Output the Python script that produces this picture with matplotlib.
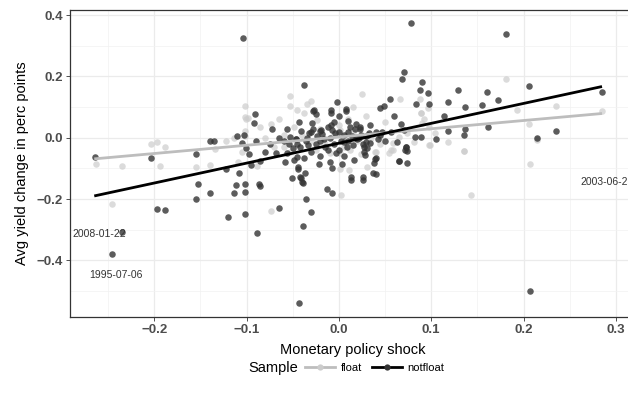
import numpy as np
import matplotlib.pyplot as plt
from matplotlib.lines import Line2D

plt.rcParams['font.family'] = ['Liberation Sans', 'DejaVu Sans']

# ===== data =====
# notfloat sample: (shock, avg yield change)
notfloat_x = [-0.264, -0.204, -0.155, -0.104, -0.110, -0.140, -0.135, -0.105, -0.101, -0.097,
              -0.153, -0.140, -0.155, -0.197, -0.188, -0.235, -0.246, -0.120, -0.122, -0.108,
              -0.111, -0.114, -0.1015, -0.1015, -0.1015, -0.089, -0.065, -0.086, -0.043, -0.039,
              -0.036, -0.030, -0.039, -0.013, -0.008, 0.207, 0.013, 0.026, 0.078, 0.181,
              0.070, 0.068, 0.090, 0.088, 0.096, 0.055, 0.044, 0.049, 0.083, 0.098,
              0.118, 0.129, 0.137, 0.160, 0.172, 0.155, 0.206, 0.285, 0.2145, 0.235,
              0.162, 0.135, 0.137, 0.114, 0.105, -0.002, 0.008, 0.065, 0.074, 0.072,
              0.073, 0.040, 0.038, 0.040, 0.026, 0.013, 0.060, 0.082, 0.089, 0.034,
              0.029, 0.034, 0.016, 0.028, 0.027, -0.091, -0.092, -0.072, -0.103, -0.025,
              -0.029, -0.043, -0.041, -0.032, -0.021, -0.009, -0.009, 0.010, 0.018, 0.023,
              0.033, -0.087, -0.051, -0.041, -0.040, -0.044, -0.058, -0.045, -0.038, -0.028,
              -0.056, -0.053, -0.046, -0.042, -0.056, -0.049, -0.044, -0.037, -0.042, -0.068,
              0.118, 0.067, 0.070, 0.040, 0.047, 0.056, 0.023, 0.024, 0.029, 0.030,
              0.027, 0.039, 0.037, 0.063, 0.073, 0.074, 0.065, -0.027, -0.009, 0.008,
              -0.020, -0.015, -0.010, -0.005, 0.000, 0.005, 0.010, 0.015, -0.025, -0.030,
              -0.035, -0.020, 0.000, 0.010, 0.020, -0.045, -0.050, -0.005, 0.005, -0.010,
              0.018, -0.028, 0.045, 0.050, -0.060, -0.012, 0.002, -0.018, 0.012, -0.038,
              -0.022, -0.008, 0.003, -0.065, -0.075, -0.080, -0.090, -0.085, -0.095, 0.000,
              -0.016, -0.004, 0.006, 0.014, -0.024, -0.033, -0.012, 0.022, 0.031, -0.047,
              -0.003, 0.009, -0.019, 0.017, -0.030, 0.042, -0.054, -0.007, 0.026, -0.036]
notfloat_y = [-0.062, -0.067, -0.053, 0.325, 0.005, -0.010, -0.010, -0.018, -0.034, -0.052,
              -0.150, -0.180, -0.200, -0.231, -0.236, -0.309, -0.380, -0.260, -0.103, -0.116,
              -0.155, -0.180, -0.150, -0.176, -0.250, -0.311, -0.230, -0.157, -0.539, -0.148,
              -0.200, -0.242, -0.289, -0.167, -0.180, -0.501, -0.138, -0.138, 0.373, 0.339,
              0.213, 0.192, 0.181, 0.155, 0.146, 0.126, 0.096, 0.103, 0.109, 0.110,
              0.115, 0.156, 0.099, 0.150, 0.122, 0.106, 0.169, 0.148, 0.000, 0.021,
              0.036, 0.010, 0.029, 0.070, -0.004, 0.116, 0.088, -0.076, -0.082, -0.039,
              -0.030, -0.066, -0.082, -0.120, -0.129, -0.129, 0.070, 0.002, 0.002, 0.040,
              0.007, -0.016, -0.073, -0.056, -0.030, 0.077, 0.049, 0.027, 0.010, 0.077,
              0.048, 0.051, 0.021, 0.014, 0.023, 0.082, 0.041, 0.055, 0.044, 0.028,
              0.014, -0.150, -0.132, -0.130, -0.145, -0.101, -0.079, -0.062, 0.172, 0.088,
              0.027, 0.003, -0.005, -0.029, -0.051, -0.073, -0.095, -0.116, -0.127, -0.051,
              0.021, 0.044, 0.025, 0.018, 0.020, 0.020, 0.034, 0.009, -0.013, -0.033,
              -0.046, -0.070, -0.116, -0.013, -0.031, -0.043, -0.075, 0.090, 0.090, 0.093,
              -0.010, -0.030, 0.000, -0.020, -0.040, 0.010, -0.010, -0.025, -0.020, -0.045,
              0.000, -0.060, 0.020, 0.020, -0.005, -0.020, -0.035, 0.050, -0.060, -0.080,
              0.000, 0.030, 0.010, -0.010, -0.010, 0.035, -0.010, 0.012, 0.035, -0.065,
              -0.085, -0.100, -0.085, 0.000, -0.020, -0.045, -0.010, -0.075, -0.090, 0.070,
              -0.004, 0.015, -0.015, 0.005, 0.005, -0.025, -0.040, 0.000, 0.010, -0.005,
              -0.050, -0.030, 0.025, 0.028, 0.020, -0.005, -0.020, 0.025, -0.020, -0.010]

# float sample
float_x = [-0.102, -0.101, -0.098, -0.102, -0.122, -0.114, -0.204, -0.197, -0.188, -0.105,
           -0.134, -0.263, -0.235, -0.194, -0.155, -0.140, -0.246, -0.109, -0.074, 0.002,
           0.143, 0.181, 0.025, 0.066, 0.235, 0.285, 0.2145, 0.207, 0.206, 0.135,
           0.118, 0.099, 0.054, 0.059, 0.029, 0.040, 0.024, 0.088, 0.089, 0.096,
           0.193, 0.215, -0.053, -0.053, -0.035, -0.102, -0.074, -0.085, -0.102, -0.089,
           0.001, 0.011, -0.049, -0.038, -0.024, 0.001, 0.012, 0.001, -0.053, -0.060,
           0.089, 0.092, 0.090, 0.098, 0.104, 0.098, 0.136, 0.081, 0.074, 0.065,
           0.056, 0.059, 0.039, 0.030, 0.045, -0.020, -0.015, -0.005, 0.005, 0.015,
           -0.030, -0.010, 0.020, 0.010, -0.040, 0.000, -0.025, 0.035, 0.045, -0.060,
           -0.070, -0.080, -0.065, -0.045, 0.015, 0.050, -0.030]
float_y = [0.102, 0.061, 0.063, 0.023, -0.012, 0.000, -0.020, -0.014, -0.030, -0.046,
           -0.036, -0.087, -0.093, -0.092, -0.097, -0.088, -0.217, -0.079, -0.240, -0.187,
           -0.188, 0.192, 0.142, 0.127, 0.102, 0.086, -0.004, -0.085, 0.045, -0.044,
           -0.013, -0.024, -0.049, -0.040, 0.071, -0.046, -0.053, 0.126, 0.080, 0.096,
           0.090, -0.007, 0.135, 0.104, 0.109, 0.067, 0.044, 0.036, 0.006, -0.092,
           -0.101, -0.105, 0.036, 0.080, 0.058, 0.025, -0.040, -0.051, -0.046, -0.029,
           0.082, 0.060, 0.047, 0.036, 0.014, -0.024, -0.043, -0.013, 0.014, 0.003,
           -0.040, -0.018, -0.046, -0.095, 0.003, 0.030, -0.020, 0.010, -0.030, 0.020,
           -0.010, -0.050, -0.010, 0.060, 0.010, 0.040, -0.040, 0.000, -0.020, 0.010,
           -0.030, 0.000, 0.060, 0.090, 0.100, 0.050, 0.120]

# fitted regression lines (endpoints)
fit_x = [-0.265, 0.285]
fit_float = [-0.069, 0.079]
fit_notfloat = [-0.190, 0.167]

# labelled dates
label_text = ['2008-01-22', '1995-07-06', '2003-06-25']
label_x = [-0.260, -0.242, 0.291]
label_y = [-0.315, -0.449, -0.144]

# ===== plot =====
fig = plt.figure(figsize=(6.28, 4.05), dpi=100)
ax = fig.add_axes([0.111, 0.218, 0.902, 0.758])

ax.scatter(float_x, float_y, s=22, color='#cccccc', alpha=0.7, linewidths=0, zorder=3)
ax.scatter(notfloat_x, notfloat_y, s=22, color='#333333', alpha=0.8, linewidths=0, zorder=4)
ax.plot(fit_x, fit_float, color='#bdbdbd', lw=2.0, zorder=5, solid_capstyle='butt')
ax.plot(fit_x, fit_notfloat, color='black', lw=2.0, zorder=6, solid_capstyle='butt')

for t, x, y in zip(label_text, label_x, label_y):
    ax.text(x, y, t, fontsize=7.5, color='#333333', ha='center', va='center', zorder=7)

ax.set_xlim(-0.2916, 0.322)
ax.set_ylim(-0.584, 0.4176)
ax.set_xticks([-0.2, -0.1, 0.0, 0.1, 0.2, 0.3])
ax.set_yticks([-0.4, -0.2, 0.0, 0.2, 0.4])
ax.set_xticks(np.arange(-0.25, 0.32, 0.1), minor=True)
ax.set_yticks([-0.5, -0.3, -0.1, 0.1, 0.3], minor=True)
ax.set_xticklabels(['\u22120.2', '\u22120.1', '0.0', '0.1', '0.2', '0.3'])
ax.set_yticklabels(['\u22120.4', '\u22120.2', '0.0', '0.2', '0.4'])
ax.tick_params(which='major', length=3, width=0.6, color='#333333',
               labelsize=9.5, labelcolor='#4d4d4d', pad=2)
ax.tick_params(which='minor', length=0)
for lab in ax.get_xticklabels() + ax.get_yticklabels():
    lab.set_fontweight('bold')

ax.grid(which='major', color='#ebebeb', lw=0.9, zorder=0)
ax.grid(which='minor', color='#f2f2f2', lw=0.5, zorder=0)
ax.set_axisbelow(True)
for sp in ax.spines.values():
    sp.set_color('#333333')
    sp.set_linewidth(0.9)

ax.set_xlabel('Monetary policy shock', fontsize=10.5, labelpad=5)
ax.set_ylabel('Avg yield change in perc points', fontsize=10.5, labelpad=5)

# legend: title on the left, keys in one row
fig.text(248 / 628, 1 - 368 / 405, 'Sample', fontsize=10.5, ha='left', va='center')
handles = [Line2D([], [], color='#bdbdbd', lw=2, marker='o', ms=4.5, markerfacecolor='#cccccc',
                  markeredgewidth=0),
           Line2D([], [], color='black', lw=2, marker='o', ms=4.5, markerfacecolor='#333333',
                  markeredgewidth=0)]
fig.legend(handles, ['float', 'notfloat'], loc='center left',
           bbox_to_anchor=(305 / 628, 1 - 368 / 405), ncol=2, frameon=False, fontsize=8,
           handlelength=2.7, handletextpad=0.5, columnspacing=0.9, borderpad=0,
           borderaxespad=0)

fig.savefig('out.png', dpi=100)
